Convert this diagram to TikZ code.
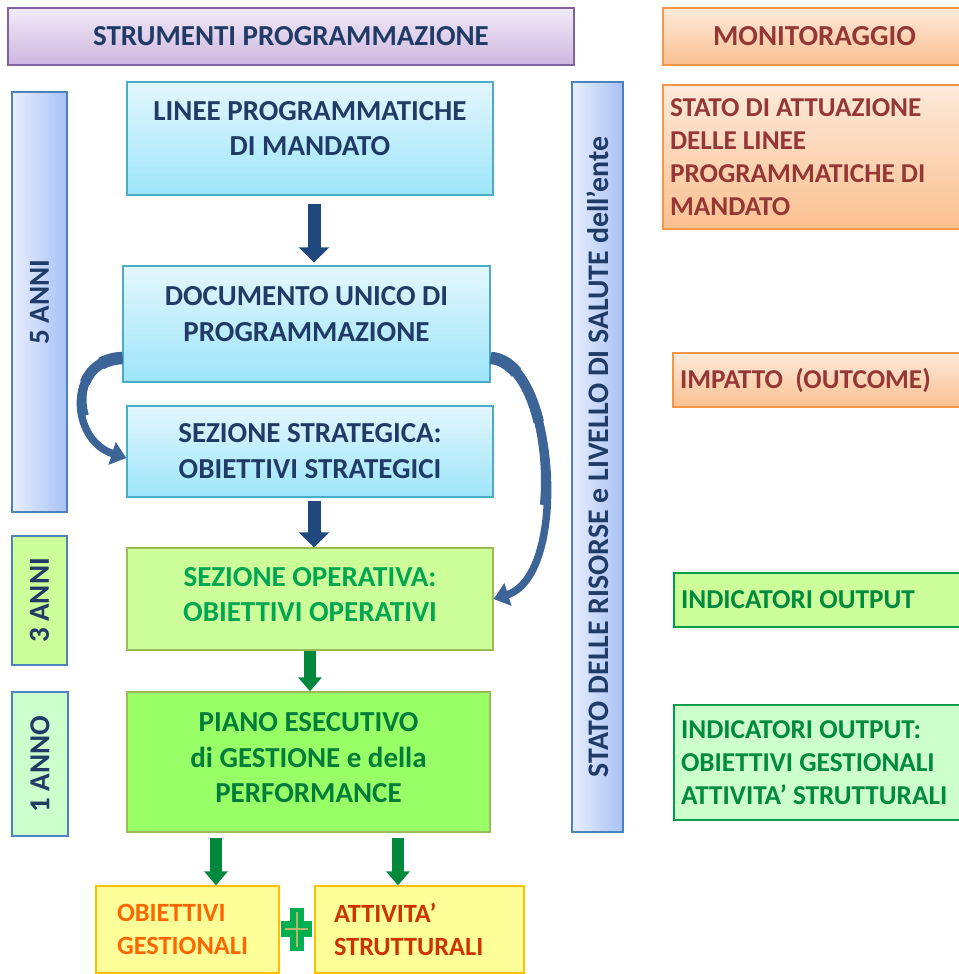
\documentclass[tikz,border=0pt]{standalone}
\usepackage{fontspec}
\setmainfont{Carlito}
\usetikzlibrary{arrows.meta}

\definecolor{navytxt}{HTML}{1F3B66}
\definecolor{redtxt}{HTML}{953735}
\definecolor{greentxt}{HTML}{00A651}
\definecolor{darkgreentxt}{HTML}{007D3A}
\definecolor{sidegreentxt}{HTML}{008A3E}
\definecolor{orangetxt}{HTML}{FF6600}
\definecolor{rusttxt}{HTML}{CC3300}
\definecolor{barblue}{HTML}{4F81BD}
\definecolor{arrowblue}{HTML}{1F497D}
\definecolor{curveblue}{HTML}{3C6496}
\definecolor{arrowgreen}{HTML}{00883C}
\definecolor{plusgreen}{HTML}{00B050}
\definecolor{plusline}{HTML}{B5B86A}
% fills and borders
\definecolor{purpleedge}{HTML}{8064A2}
\definecolor{purpletop}{HTML}{F2EAF7}
\definecolor{purplebot}{HTML}{CDB6E0}
\definecolor{orangeedge}{HTML}{F79646}
\definecolor{orangetop}{HTML}{FDEADA}
\definecolor{orangebot}{HTML}{FAC090}
\definecolor{cyanedge}{HTML}{4BACC6}
\definecolor{cyantop}{HTML}{E3F7FD}
\definecolor{cyanbot}{HTML}{9DE5FA}
\definecolor{barleft}{HTML}{E8EFFD}
\definecolor{barright}{HTML}{A6C1F5}
\definecolor{limefill}{HTML}{CCFF99}
\definecolor{mintfill}{HTML}{CCFFCC}
\definecolor{grassfill}{HTML}{99FF66}
\definecolor{oliveedge}{HTML}{9BBB59}
\definecolor{greenedge}{HTML}{00A04A}
\definecolor{yellowfill}{HTML}{FFFF99}
\definecolor{yellowedge}{HTML}{FFC000}

% thicker first stretch of a curved arrow, so it tapers
\newcommand{\curvetaper}[6]{%
  \begin{pgfscope}
    \pgfsetlinewidth{#1}\pgfsetstrokecolor{curveblue}
    \pgfpathcurvebetweentime{0}{#2}{\pgfpointanchor{#3}{center}}{\pgfpointanchor{#4}{center}}%
      {\pgfpointanchor{#5}{center}}{\pgfpointanchor{#6}{center}}
    \pgfusepath{stroke}
  \end{pgfscope}}

\tikzset{
  box/.style={draw, line width=0.8pt, inner sep=0pt, align=center,
    font=\bfseries\fontsize{16.5}{20.4}\selectfont},
  sz/.style 2 args={minimum width=#1cm, minimum height=#2cm},
  liftup/.style={text depth=#1},
  sidefont/.style={font=\bfseries\fontsize{15}{18.7}\selectfont},
  headbox/.style={draw=purpleedge, top color=purpletop, bottom color=purplebot, text=navytxt},
  orangebox/.style={draw=orangeedge, top color=orangetop, bottom color=orangebot, text=redtxt},
  cyanbox/.style={draw=cyanedge, top color=cyantop, bottom color=cyanbot, text=navytxt},
  bluebar/.style={draw=barblue, left color=barleft, right color=barright, text=navytxt},
  yearbar/.style={draw=barblue, text=navytxt},
  sidebox/.style={box, font=\bfseries\fontsize{15.5}{18.7}\selectfont, align=flush left, inner xsep=0.14cm},
  bottombox/.style={box, sidefont, align=flush left, draw=yellowedge, fill=yellowfill},
  bluearrow/.style={draw=arrowblue, line width=0.26cm, -{Triangle[width=0.6cm, length=0.3cm]}},
  greenarrow/.style={draw=arrowgreen, line width=0.24cm, -{Triangle[width=0.46cm, length=0.28cm]}},
  curvearrow/.style={draw=curveblue, line width=0.15cm, -{Triangle[width=0.46cm, length=0.3cm]}}
}

\begin{document}
\begin{tikzpicture}[x=0.02cm, y=-0.02cm]
  \useasboundingbox (0,0) rectangle (958,974);

  % column titles
  \node[box, headbox, sz={11.32}{1.14}] (strumenti) at (291,36.5) {STRUMENTI PROGRAMMAZIONE};
  \node[box, orangebox, sz={6.06}{1.14}] (monitor) at (814.5,36.5) {MONITORAGGIO};

  % time spans
  \node[box, bluebar, sz={1.1}{8.4}] (cinque) at (39.5,302) {\rotatebox{90}{5 ANNI}};
  \node[box, yearbar, fill=limefill, sz={1.1}{2.58}] (tre) at (39.5,600.5) {\rotatebox{90}{3 ANNI}};
  \node[box, yearbar, fill=mintfill, sz={1.12}{2.88}] (uno) at (40,764) {\rotatebox{90}{1 ANNO}};

  % planning chain
  \node[box, cyanbox, liftup=0.4cm, sz={7.32}{2.26}] (linee) at (310,138.5) {LINEE PROGRAMMATICHE\\DI MANDATO};
  \node[box, cyanbox, liftup=0.4cm, sz={7.34}{2.32}] (docu) at (306.5,324) {DOCUMENTO UNICO DI\\PROGRAMMAZIONE};
  \node[box, cyanbox, sz={7.32}{1.82}] (strat) at (310,451.5) {SEZIONE STRATEGICA:\\OBIETTIVI STRATEGICI};
  \node[box, draw=oliveedge, fill=limefill, text=greentxt, liftup=0.18cm, sz={7.32}{2.04}] (opera) at (310,599) {SEZIONE OPERATIVA:\\OBIETTIVI OPERATIVI};
  \node[box, draw=oliveedge, fill=grassfill, text=darkgreentxt, liftup=0.18cm, sz={7.26}{2.8}] (piano) at (308.5,762) {PIANO ESECUTIVO\\di GESTIONE e della\\PERFORMANCE};

  \node[bottombox, text=orangetxt, inner xsep=0.42cm, text width=2.82cm, sz={3.66}{1.74}] (obiett) at (187.5,929.5) {OBIETTIVI\\GESTIONALI};
  \node[bottombox, text=rusttxt, inner xsep=0.38cm, text width=3.42cm, sz={4.18}{1.74}] (attiv) at (419.5,929.5) {ATTIVITA’\\STRUTTURALI};

  % plus sign
  \fill[plusgreen] (290,908) rectangle (304,951);
  \fill[plusgreen] (281,921) rectangle (312,937);
  \draw[plusline, line width=0.6pt] (297,912) -- (297,947) (285,929) -- (308,929);

  % resources bar
  \node[box, bluebar, sz={1.02}{15}] (stato) at (597.5,457)
    {\rotatebox{90}{\fontsize{17}{20}\selectfont STATO DELLE RISORSE e LIVELLO DI SALUTE dell’ente}};

  % monitoring column
  \node[sidebox, orangebox, text width=5.78cm, sz={6.06}{2.88}] (attuaz) at (814.5,157)
    {STATO DI ATTUAZIONE\\DELLE LINEE\\PROGRAMMATICHE DI\\MANDATO};
  \node[sidebox, orangebox, text width=5.58cm, sz={5.86}{1.08}] (impatto) at (819.5,380) {IMPATTO\ \ (OUTCOME)};
  \node[sidebox, draw=greenedge, fill=limefill, text=sidegreentxt, text width=5.56cm, sz={5.84}{1.08}] (indout) at (820,600) {INDICATORI OUTPUT};
  \node[sidebox, draw=greenedge, fill=mintfill, text=sidegreentxt, text width=5.56cm, sz={5.84}{2.3}] (indobj) at (820,762.5)
    {INDICATORI OUTPUT:\\OBIETTIVI GESTIONALI\\ATTIVITA’ STRUTTURALI};

  % arrows
  \draw[bluearrow, shorten <=0.16cm, shorten >=0.06cm] (linee.south -| 314,0) -- (docu.north -| 314,0);
  \draw[bluearrow, shorten <=0.06cm] (strat.south -| 314,0) -- (opera.north -| 314,0);
  \draw[greenarrow] (opera.south -| 310,0) -- (piano.north -| 310,0);
  \draw[greenarrow, shorten <=0.1cm] (piano.south -| 216,0) -- (obiett.north -| 216,0);
  \draw[greenarrow, shorten <=0.1cm] (piano.south -| 398,0) -- (attiv.north -| 398,0);

  % curved arrows out of the DUP
  \coordinate (ls) at ([yshift=-0.68cm]docu.west);
  \coordinate (le) at ([yshift=-0.13cm]strat.west);
  \coordinate (lc1) at (66,360);
  \coordinate (lc2) at (70,440);
  \coordinate (rs) at ([yshift=-0.68cm]docu.east);
  \coordinate (re) at (opera.east);
  \coordinate (rc1) at (556,362);
  \coordinate (rc2) at (570,575);
  \draw[curvearrow] (ls) .. controls (lc1) and (lc2) .. (le);
  \draw[curvearrow] (rs) .. controls (rc1) and (rc2) .. (re);
  \foreach \w/\t in {0.18cm/0.6, 0.21cm/0.35, 0.25cm/0.15}{
    \curvetaper{\w}{\t}{ls}{lc1}{lc2}{le}
    \curvetaper{\w}{\t}{rs}{rc1}{rc2}{re}
  }
\end{tikzpicture}
\end{document}
